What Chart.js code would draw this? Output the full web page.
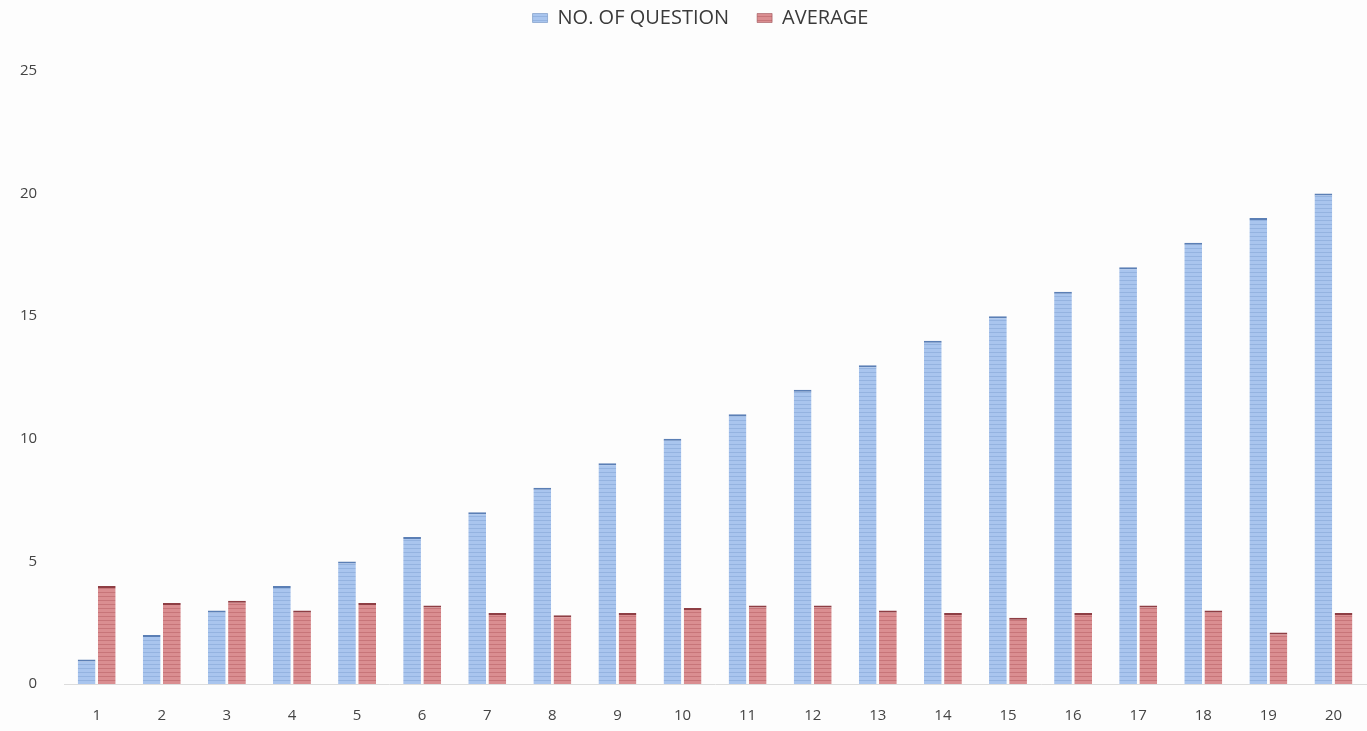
<!DOCTYPE html>
<html>
<head>
<meta charset="utf-8">
<script src="https://cdn.jsdelivr.net/npm/chart.js@4"></script>
<style>
  html, body { margin: 0; padding: 0; background: #fdfdfd; }
  #wrap { width: 1367px; height: 731px; }
</style>
</head>
<body>
<div id="wrap"><canvas id="bar-chart"></canvas></div>
<script>
const categories = ["1","2","3","4","5","6","7","8","9","10","11","12","13","14","15","16","17","18","19","20"];
const questions = [1,2,3,4,5,6,7,8,9,10,11,12,13,14,15,16,17,18,19,20];
const average = [4.0,3.3,3.4,3.0,3.3,3.2,2.9,2.8,2.9,3.1,3.2,3.2,3.0,2.9,2.7,2.9,3.2,3.0,2.1,2.9];
const yTicks = [0,5,10,15,20,25];

// striped fill, like the scanned print
function stripes(base, line) {
  const c = document.createElement("canvas");
  c.width = 4; c.height = 4;
  const g = c.getContext("2d");
  g.fillStyle = base; g.fillRect(0, 0, 4, 4);
  g.fillStyle = line; g.fillRect(0, 0, 4, 1);
  return g.createPattern(c, "repeat");
}

// more room under the legend, and nudge it right a little
const legendSpace = {
  id: "legendSpace",
  beforeInit(chart) {
    const fit = chart.legend.fit;
    chart.legend.fit = function () {
      fit.bind(chart.legend)();
      this.height += 33;
    };
  },
  afterLayout(chart) {
    chart.legend.left += 17;
    chart.legend.right += 17;
  }
};

new Chart(document.getElementById("bar-chart"), {
  type: 'bar',
  plugins: [legendSpace],
  data: {
    labels: categories,
    datasets: [
      {
        label: "NO. OF QUESTION",
        backgroundColor: stripes("#a9c5ee", "#94b3e0"),
        borderColor: "#5b7fb5",
        borderWidth: { top: 2, left: 0, right: 0, bottom: 0 },
        borderSkipped: false,
        data: questions
      },
      {
        label: "AVERAGE",
        backgroundColor: stripes("#da8e91", "#c77579"),
        borderColor: "#8e3e44",
        borderWidth: { top: 2, left: 0, right: 0, bottom: 0 },
        borderSkipped: false,
        data: average
      }
    ]
  },
  options: {
    responsive: true,
    maintainAspectRatio: false,
    animation: false,
    categoryPercentage: 0.62,
    barPercentage: 0.88,
    layout: { padding: { left: 1, right: 1, top: -20, bottom: -9 } },
    plugins: {
      legend: {
        position: 'top',
        labels: {
          boxWidth: 15,
          boxHeight: 9,
          padding: 28,
          color: "#3a3a3a",
          font: { family: "'Open Sans', sans-serif", size: 20 }
        }
      },
      tooltip: { enabled: false }
    },
    scales: {
      x: {
        grid: { display: false },
        border: { color: "#dcdcdc" },
        ticks: { color: "#444", font: { family: "'Open Sans', sans-serif", size: 15 }, padding: 15 }
      },
      y: {
        min: 0,
        max: 25,
        afterBuildTicks: axis => { axis.ticks = yTicks.map(v => ({ value: v })); },
        grid: { display: false },
        border: { display: false },
        ticks: { color: "#444", font: { family: "'Open Sans', sans-serif", size: 15 }, padding: 19 }
      }
    }
  }
});
</script>
</body>
</html>
